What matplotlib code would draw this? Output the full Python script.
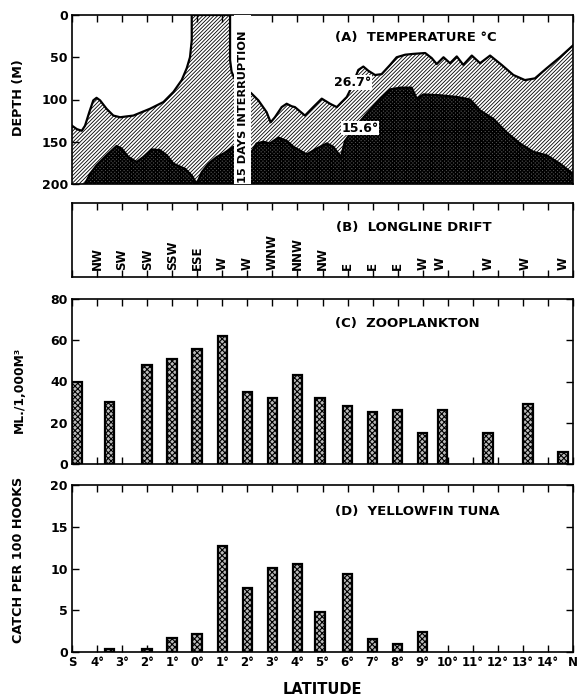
import numpy as np
import matplotlib
matplotlib.use("Agg")
import matplotlib.pyplot as plt

plt.rcParams['font.family'] = ['DejaVu Sans']
plt.rcParams['font.weight'] = 'bold'

# ---------------- data ----------------
LAT_TICKS = list(range(-5, 16))
LAT_LABELS = ['S', '4°', '3°', '2°', '1°', '0°', '1°', '2°', '3°', '4°', '5°',
              '6°', '7°', '8°', '9°', '10°', '11°', '12°', '13°', '14°', 'N']

# (A) 26.7 C isotherm (latitude, depth m)
T267_LAT = [-5.0, -4.81, -4.61, -4.48, -4.31, -4.15, -4.02, -3.88, -3.62, -3.35,
            -3.08, -2.55, -1.89, -1.35, -0.95, -0.62, -0.42, -0.29, -0.22, -0.22,
            1.31, 1.31, 1.37, 1.48,
            2.17, 2.44, 2.77, 2.93, 3.10, 3.37, 3.57, 3.77, 3.90,
            4.30, 4.63, 4.97, 5.30, 5.57, 5.97, 6.17, 6.43, 6.63, 6.83, 7.10,
            7.36, 7.70, 7.96, 8.30, 8.63, 9.10, 9.36, 9.56, 9.83, 10.09, 10.36,
            10.62, 10.96, 11.29, 11.69, 12.15, 12.62, 13.08, 13.48, 13.95, 14.48, 15.0]
T267_DEPTH = [131, 135, 137, 131, 115, 101, 98, 101, 111, 119,
              121, 119, 111, 103, 91, 77, 63, 50, 30, 0,
              0, 53, 67, 75,
              93, 101, 115, 127, 121, 109, 105, 108, 109,
              119, 109, 99, 105, 109, 97, 85, 65, 61, 66, 71,
              70, 59, 50, 47, 46, 45, 51, 58, 50, 57, 49,
              59, 48, 57, 48, 59, 71, 77, 75, 63, 50, 36]

# (A) 15.6 C isotherm
T156_LAT = [-4.48, -4.28, -4.02, -3.62, -3.22, -3.02, -2.75, -2.42, -2.15, -1.82,
            -1.49, -1.22, -0.95, -0.49, -0.22, -0.02, 0.18, 0.45, 0.78, 1.05, 1.44,
            2.17, 2.37, 2.64, 2.90, 3.24, 3.57,
            3.84, 4.37, 4.77, 5.17, 5.43, 5.63, 5.74, 5.90, 6.23, 6.76, 7.30,
            7.70, 8.10, 8.43, 8.56, 8.76, 9.03, 9.69, 10.36, 10.89, 11.29, 11.82,
            12.35, 12.88, 13.42, 13.95, 14.48, 15.0]
T156_DEPTH = [200, 188, 178, 166, 155, 158, 168, 174, 168, 159,
              160, 166, 176, 182, 190, 200, 186, 176, 168, 164, 156,
              162, 152, 150, 152, 145, 149,
              156, 165, 158, 152, 156, 164, 168, 149, 135, 117, 99,
              88, 86, 86, 86, 99, 94, 95, 97, 100, 113, 123,
              139, 152, 162, 166, 176, 188]

GAP_LAT = [1.47, 2.15]

# (B) longline drift
DRIFT_LAT = [-4, -3, -2, -1, 0, 1, 2, 3, 4, 5, 6, 7, 8, 9, 9.7, 11.6, 13.1, 14.6]
DRIFT_DIR = ['NW', 'SW', 'SW', 'SSW', 'ESE', 'W', 'W', 'WNW', 'NNW', 'NW',
             'E', 'E', 'E', 'W', 'W', 'W', 'W', 'W']

# (C) zooplankton, ml / 1000 m3
ZOO_LAT = [-4.8, -3.5, -2, -1, 0, 1, 2, 3, 4, 4.9, 6, 7, 8, 9, 9.8, 11.6, 13.2, 14.6]
ZOO_VOL = [40, 30, 48, 51, 56, 62, 35, 32, 43, 32, 28, 25, 26, 15, 26, 15, 29, 6]

# (D) yellowfin tuna, catch per 100 hooks
TUNA_LAT = [-3.5, -2, -1, 0, 1, 2, 3, 4, 4.9, 6, 7, 8, 9]
TUNA_CPUE = [0.4, 0.3, 1.7, 2.2, 12.7, 7.7, 10.1, 10.5, 4.8, 9.3, 1.5, 0.9, 2.4]

# ---------------- layout ----------------
W, H = 580, 696
fig = plt.figure(figsize=(W / 100, H / 100), dpi=100)
fig.patch.set_facecolor('white')


def rect(top, bottom, left=72, right=573):
    return [left / W, 1 - bottom / H, (right - left) / W, (bottom - top) / H]


axA = fig.add_axes(rect(15, 184))
axB = fig.add_axes(rect(203, 277))
axC = fig.add_axes(rect(299, 464))
axD = fig.add_axes(rect(485, 652))

TFS = 9.5
for ax in (axA, axB, axC, axD):
    ax.set_xlim(-5, 15)
    for s in ax.spines.values():
        s.set_linewidth(1.2)
    ax.set_xticks(LAT_TICKS)
    ax.tick_params(axis='both', direction='in', length=5, width=1.0,
                   labelsize=9, pad=3)

# ---- (A) temperature ----
with plt.rc_context({'hatch.linewidth': 0.6}):
    axA.fill_between(T267_LAT, T267_DEPTH, 200, facecolor='white',
                     edgecolor='black', hatch='/' * 9, linewidth=0, zorder=1)
with plt.rc_context({'hatch.linewidth': 1.0}):
    axA.fill_between(T156_LAT, T156_DEPTH, 200, facecolor='#555555',
                     edgecolor='black', hatch='x' * 9, linewidth=0, zorder=2)
axA.plot(T267_LAT, T267_DEPTH, color='black', lw=1.6, zorder=3)
axA.plot(T156_LAT, T156_DEPTH, color='black', lw=1.6, zorder=3)
axA.axvspan(GAP_LAT[0], GAP_LAT[1], facecolor='white', edgecolor='none', zorder=4)
axA.text(sum(GAP_LAT) / 2, 108, '15 DAYS INTERRUPTION', rotation=90,
         ha='center', va='center', fontsize=8.2, zorder=6)
axA.text(6.2, 80, '26.7°', ha='center', va='center', fontsize=9, zorder=6,
         bbox=dict(facecolor='white', edgecolor='none', pad=0.5))
axA.text(6.5, 134, '15.6°', ha='center', va='center', fontsize=9, zorder=6,
         bbox=dict(facecolor='white', edgecolor='none', pad=0.5))
axA.text(5.5, 27, '(A)  TEMPERATURE °C', ha='left', va='center', fontsize=TFS, zorder=6)
axA.set_ylim(200, 0)
axA.set_yticks([0, 50, 100, 150, 200])
axA.tick_params(axis='x', top=True, bottom=False, labelbottom=False)
axA.tick_params(axis='y', left=True, right=False)

# ---- (B) longline drift ----
axB.set_ylim(0, 1)
axB.set_yticks([])
for lat, d in zip(DRIFT_LAT, DRIFT_DIR):
    axB.text(lat, 0.095, d, rotation=90, ha='center', va='bottom', fontsize=8.5)
axB.text(5.55, 0.67, '(B)  LONGLINE DRIFT', ha='left', va='center', fontsize=TFS)
axB.tick_params(axis='x', top=True, bottom=True, labelbottom=False)

# ---- (C) zooplankton ----
with plt.rc_context({'hatch.linewidth': 0.8}):
    axC.bar(ZOO_LAT, ZOO_VOL, width=0.38, facecolor='#bbbbbb', edgecolor='black',
            hatch='x' * 6, linewidth=1.6, zorder=2)
axC.set_ylim(0, 80)
axC.set_yticks([0, 20, 40, 60, 80])
axC.text(5.5, 68, '(C)  ZOOPLANKTON', ha='left', va='center', fontsize=TFS)
axC.tick_params(axis='x', top=True, bottom=True, labelbottom=False)
axC.tick_params(axis='y', left=True, right=True)

# ---- (D) yellowfin tuna ----
with plt.rc_context({'hatch.linewidth': 0.8}):
    axD.bar(TUNA_LAT, TUNA_CPUE, width=0.38, facecolor='#bbbbbb', edgecolor='black',
            hatch='x' * 6, linewidth=1.6, zorder=2)
axD.set_ylim(0, 20)
axD.set_yticks([0, 5, 10, 15, 20])
axD.text(5.5, 16.8, '(D)  YELLOWFIN TUNA', ha='left', va='center', fontsize=TFS)
axD.tick_params(axis='x', top=True, bottom=True, labelbottom=True)
axD.tick_params(axis='y', left=True, right=True)
axD.set_xticklabels(LAT_LABELS, fontsize=8.5)

# ---- axis titles ----
fig.text(19 / W, 1 - 97.5 / H, 'DEPTH (M)', rotation=90, ha='center', va='center', fontsize=9.2)
fig.text(19 / W, 1 - 390 / H, 'ML./1,000M³', rotation=90, ha='center', va='center', fontsize=8.8)
fig.text(19 / W, 1 - 560 / H, 'CATCH PER 100 HOOKS', rotation=90, ha='center', va='center', fontsize=9.2)
fig.text(322 / W, 1 - 689 / H, 'LATITUDE', ha='center', va='center', fontsize=10.5)

fig.savefig('out.png', dpi=100)
